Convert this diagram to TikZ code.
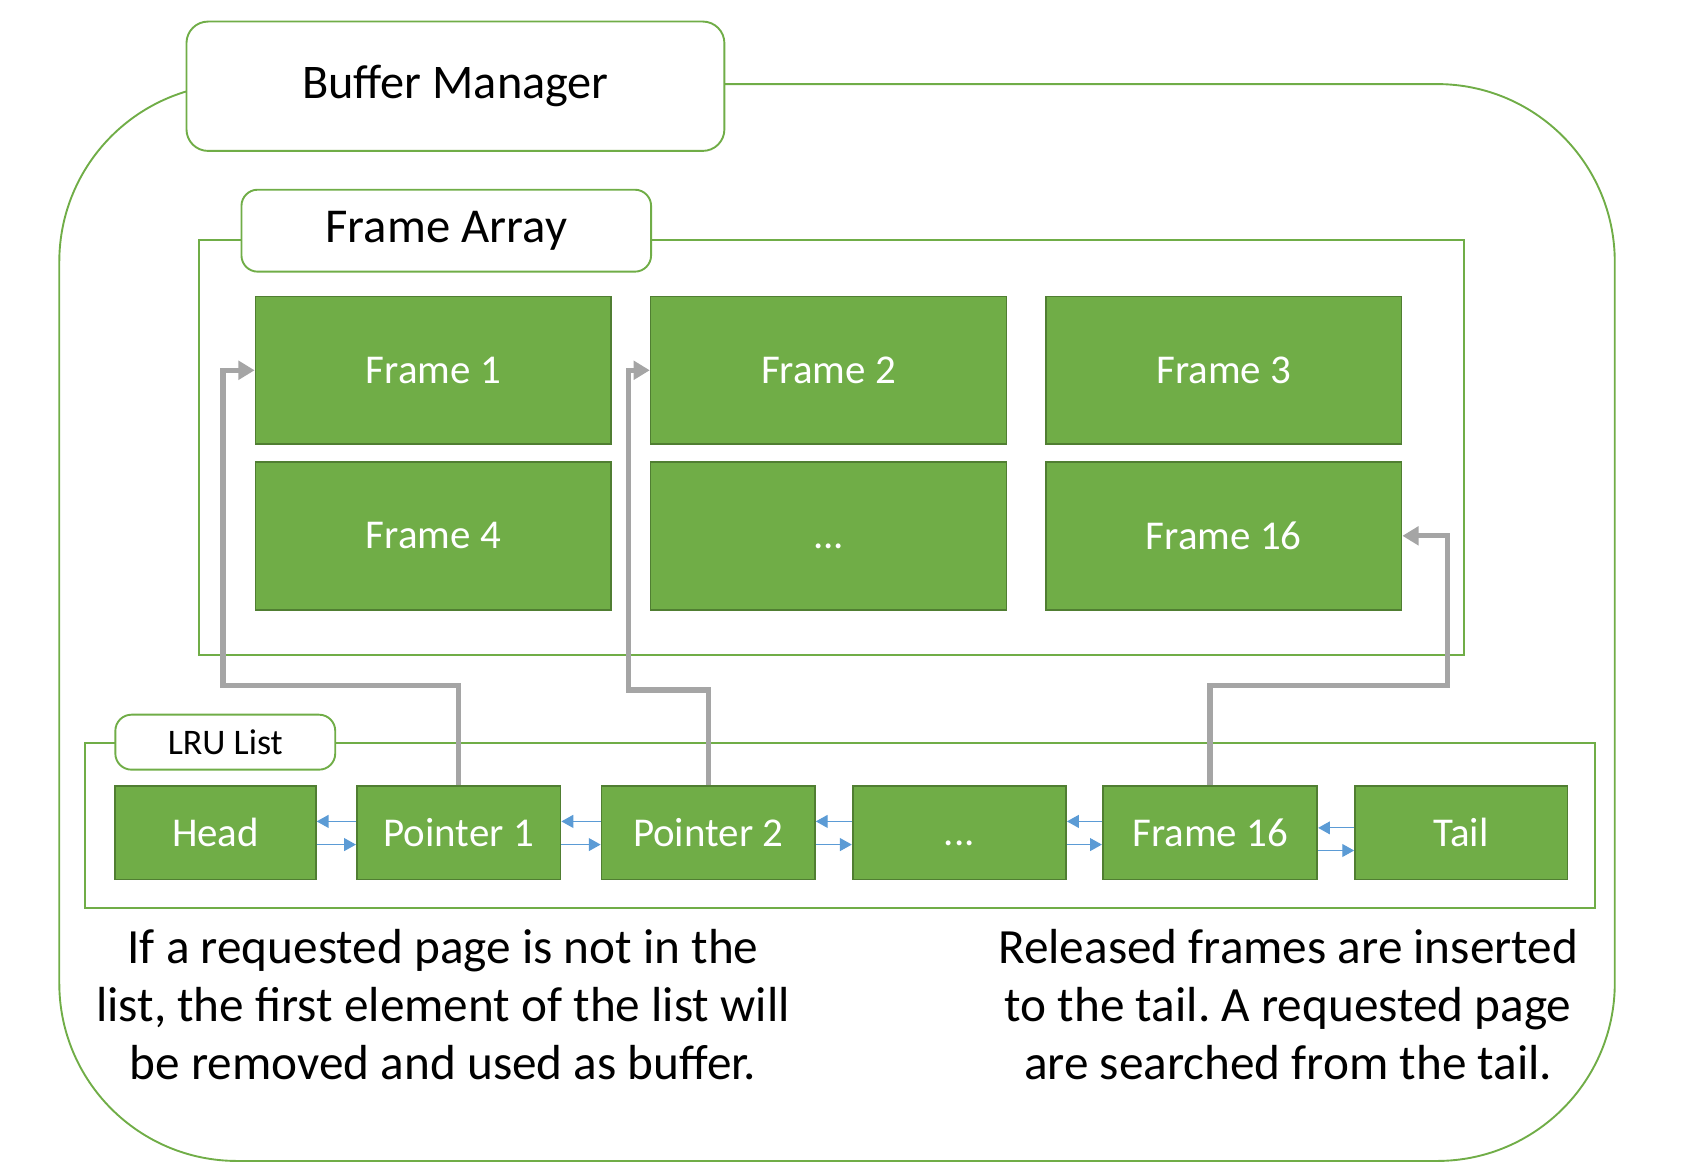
\documentclass[tikz,border=0pt]{standalone}
\usepackage{fontspec}
\setmainfont{Carlito}
\usepackage{xcolor}
\definecolor{boxgreen}{HTML}{70AD47}
\definecolor{edgegreen}{HTML}{507E32}
\definecolor{linkblue}{HTML}{5B9BD5}
\definecolor{ptrgray}{HTML}{A5A5A5}
\usetikzlibrary{positioning,arrows.meta}
\frenchspacing

\begin{document}
\begin{tikzpicture}[x=0.2mm, y=-0.2mm,
  framebox/.style={draw=edgegreen, line width=0.9pt, fill=boxgreen, text=white,
    minimum width=66mm, minimum height=27.4mm, font=\fontsize{21.6}{26}\selectfont},
  listbox/.style={draw=edgegreen, line width=0.9pt, fill=boxgreen, text=white,
    minimum height=17.4mm, font=\fontsize{21.6}{26}\selectfont},
  tagbox/.style={draw=boxgreen, line width=1pt, fill=white, rounded corners=3mm},
  link/.style={draw=linkblue, line width=0.6pt, -{Triangle[length=2.2mm,width=2.4mm]}},
  ptr/.style={draw=ptrgray, line width=2.8pt, -{Triangle[length=3mm,width=3.4mm]}},
  note/.style={align=center, font=\fontsize{26}{30.7}\selectfont}]
  \useasboundingbox (0,0) rectangle (1565,1090);

  % Buffer manager
  \draw[boxgreen, line width=1pt, rounded corners=33mm] (55,78) rectangle (1498,1077);
  \node[tagbox, rounded corners=4mm, minimum width=99.8mm, minimum height=24mm,
    font=\fontsize{25.5}{30}\selectfont] (bm) at (422.5,80) {Buffer Manager};

  % Frame array
  \draw[boxgreen, line width=1pt] (185,223) rectangle (1358,608);
  \node[tagbox, minimum width=76mm, minimum height=15.2mm,
    font=\fontsize{25.7}{30}\selectfont] (fa) at (414,214) {Frame Array};
  \node[framebox] (f1) at (402,343.5) {Frame 1};
  \node[framebox, right=7mm of f1] (f2) {Frame 2};
  \node[framebox, right=7mm of f2] (f3) {Frame 3};
  \node[framebox, below=3mm of f1] (f4) {Frame 4};
  \node[framebox, right=7mm of f4] (fdots) {\vphantom{F}...};
  \node[framebox, right=7mm of fdots] (f16) {Frame 16};

  % LRU list
  \draw[boxgreen, line width=1pt] (79,689) rectangle (1480,842);
  \node[tagbox, minimum width=40.8mm, minimum height=10.2mm,
    font=\fontsize{19}{23}\selectfont] (lru) at (209,688.5) {LRU List};
  \node[listbox, minimum width=37.2mm] (head) at (200,772.5) {Head};
  \node[listbox, minimum width=37.8mm] (p1) at (425.5,772.5) {Pointer 1};
  \node[listbox, minimum width=39.6mm] (p2) at (657,772.5) {Pointer 2};
  \node[listbox, minimum width=39.6mm] (ldots) at (890,772.5) {\vphantom{F}...};
  \node[listbox, minimum width=39.8mm] (lf16) at (1122.5,772.5) {Frame 16};
  \node[listbox, minimum width=39.4mm] (tail) at (1355.5,772.5) {Tail};

  % links of the list
  \foreach \a/\b in {head/p1,p1/p2,p2/ldots,ldots/lf16} {
    \draw[link] ([yshift=2.1mm]\b.west) -- ([yshift=2.1mm]\a.east);
    \draw[link] ([yshift=-2.2mm]\a.east) -- ([yshift=-2.2mm]\b.west);
  }
  \draw[link] ([yshift=0.9mm]tail.west) -- ([yshift=0.9mm]lf16.east);
  \draw[link] ([yshift=-3.3mm]lf16.east) -- ([yshift=-3.3mm]tail.west);

  % pointers to frames
  \coordinate (c1) at (207,636);
  \coordinate (c2) at (583,640);
  \coordinate (c3) at (1343,636);
  \draw[ptr] (p1.north) |- (c1) |- (f1.west);
  \draw[ptr] (p2.north) |- (c2) |- (f2.west);
  \draw[ptr] (lf16.north) |- (c3) |- (f16.east);

  % Notes
  \node[note] (leftnote) at (411,932)
    {If a requested page is not in the\\list, the first element of the list will\\be removed and used as buffer.};
  \node[note] (rightnote) at (1195,932)
    {Released frames are inserted\\to the tail. A requested page\\are searched from the tail.};
\end{tikzpicture}
\end{document}
